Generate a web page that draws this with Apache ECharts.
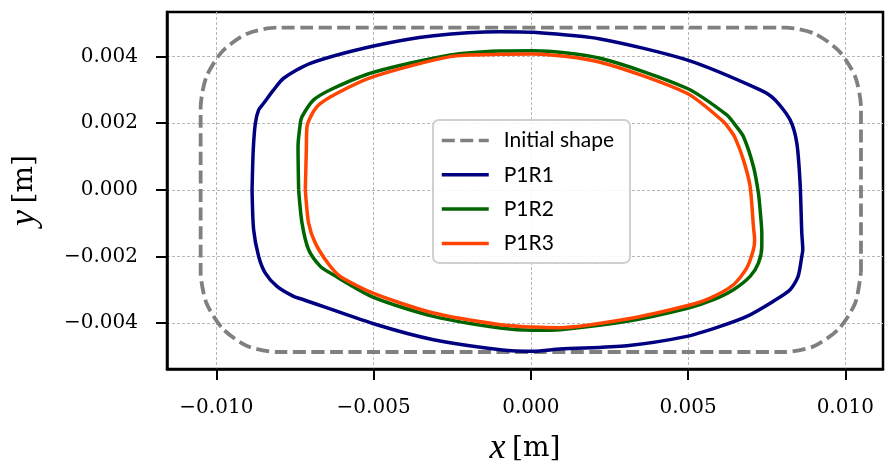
<!DOCTYPE html>
<html><head><meta charset="utf-8">
<script src="https://cdn.jsdelivr.net/npm/echarts@6/dist/echarts.min.js"></script>
<style>html,body{margin:0;padding:0;background:#fff}#c{width:886px;height:466px}</style>
</head><body><div id="c"></div>
<script>
const xTicks = [-0.010, -0.005, 0, 0.005, 0.010];
const yTicks = [-0.004, -0.002, 0, 0.002, 0.004];
const seriesNames = ['Initial shape', 'P1R1', 'P1R2', 'P1R3'];

const initialX = [0.0105, 0.0105, 0.01032, 0.0098, 0.00902, 0.0081, -0.0081, -0.00902, -0.0098, -0.01032, -0.0105, -0.0105, -0.01032, -0.0098, -0.00902, -0.0081, 0.0081, 0.00902, 0.0098, 0.01032, 0.0105];
const initialY = [-0.00247, 0.00247, 0.00339, 0.00417, 0.00469, 0.00487, 0.00487, 0.00469, 0.00417, 0.00339, 0.00247, -0.00247, -0.00339, -0.00417, -0.00469, -0.00487, -0.00487, -0.00469, -0.00417, -0.00339, -0.00247];

const p1r1X = [-0.008865, -0.008827, -0.00876, -0.008655, -0.008497, -0.008179, -0.007861, -0.007012, -0.005, -0.003093, -0.000973, 0.000076, 0.002206, 0.004962, 0.007292, 0.00777, 0.008246, 0.008458, 0.008563, 0.008617, 0.008649, 0.008617, 0.0085, 0.008246, 0.007705, 0.006869, 0.00602, 0.004962, 0.003055, 0.000935, 0.000086, -0.000973, -0.003093, -0.005, -0.007225, -0.007543, -0.008071, -0.008443, -0.008655, -0.008815, -0.008865];
const p1r1Y = [0, 0.0012, 0.002, 0.0024, 0.0026, 0.003, 0.00335, 0.0038, 0.00432, 0.00463, 0.00475, 0.00473, 0.00453, 0.0039, 0.003, 0.0027, 0.0021, 0.00141, 0.00021, -0.00129, -0.0018, -0.002, -0.0026, -0.003, -0.00335, -0.0038, -0.0041, -0.0044, -0.00468, -0.00478, -0.00485, -0.0048, -0.0045, -0.00402, -0.0033, -0.0032, -0.0029, -0.0025, -0.002, -0.0012, 0];

const p1r2X = [-0.007384, -0.007403, -0.00733, -0.007276, -0.006907, -0.006272, -0.005, -0.002562, -0.000973, 0.000086, 0.002206, 0.004962, 0.006233, 0.006497, 0.006761, 0.007079, 0.007238, 0.007292, 0.007346, 0.007346, 0.007238, 0.006974, 0.006443, 0.005807, 0.005013, 0.003055, 0.000935, 0.000086, -0.000973, -0.003093, -0.005, -0.006376, -0.006694, -0.007066, -0.007276, -0.007384];
const p1r2Y = [0, 0.0013, 0.002, 0.0022, 0.0027, 0.00305, 0.00353, 0.00405, 0.00417, 0.00418, 0.00395, 0.00305, 0.00225, 0.00195, 0.0016, 0.0007, -0.0001, -0.0006, -0.0013, -0.0017, -0.0022, -0.0026, -0.003, -0.0033, -0.00355, -0.00395, -0.0042, -0.00422, -0.00415, -0.0038, -0.00323, -0.0025, -0.0023, -0.0018, -0.001, 0];

const p1r3X = [-0.007171, -0.007139, -0.007117, -0.006799, -0.006163, -0.005, -0.002562, -0.000973, 0.000086, 0.002206, 0.004962, 0.006125, 0.006338, 0.006497, 0.006761, 0.006974, 0.007079, 0.007117, 0.007079, 0.006869, 0.006443, 0.005702, 0.004962, 0.003055, 0.000935, 0.000086, -0.000973, -0.003093, -0.005, -0.006058, -0.00644, -0.006853, -0.007066, -0.007171];
const p1r3Y = [0, 0.0012, 0.0019, 0.0025, 0.0029, 0.0034, 0.004, 0.00407, 0.00408, 0.00383, 0.0029, 0.00205, 0.0018, 0.00156, 0.0009, 0.0001, -0.0011, -0.0015, -0.0018, -0.00234, -0.00285, -0.00325, -0.00348, -0.00388, -0.00414, -0.00412, -0.00405, -0.0037, -0.00311, -0.0026, -0.00222, -0.0016, -0.001, 0];

const colors = ['#808080', '#000080', '#006400', '#ff4500'];
function pairs(xs, ys) { return xs.map((x, i) => [x, ys[i]]); }
function fmt(v) { return (v < -1e-12 ? '\u2212' : '') + Math.abs(v).toFixed(3); }

const chart = echarts.init(document.getElementById('c'), null, { renderer: 'canvas' });
const gridLine = { show: true, lineStyle: { color: '#b8b8b8', width: 1, type: [3, 2] } };
const labelStyle = { fontFamily: 'DejaVu Serif', fontSize: 20, color: '#000' };
const tickStyle = { show: true, inside: false, length: 11, lineStyle: { color: '#000', width: 2 } };
const nameRich = {
  i: { fontFamily: 'Liberation Serif', fontStyle: 'italic', fontSize: 36, color: '#000' },
  r: { fontFamily: 'DejaVu Serif', fontSize: 28, color: '#000' }
};

const dataSets = [pairs(initialX, initialY), pairs(p1r1X, p1r1Y), pairs(p1r2X, p1r2Y), pairs(p1r3X, p1r3Y)];

chart.setOption({
  animation: false,
  backgroundColor: '#fff',
  grid: { left: 167, right: 3, top: 12, bottom: 97, outerBoundsMode: 'none', containLabel: false, show: true, borderColor: '#000', borderWidth: 2.5, backgroundColor: 'transparent' },
  xAxis: {
    type: 'value', min: -0.01157, max: 0.0112,
    axisLine: { show: true, onZero: false, lineStyle: { color: '#000', width: 2.5 } },
    axisTick: Object.assign({ customValues: xTicks }, tickStyle),
    axisLabel: Object.assign({ customValues: xTicks, formatter: fmt, margin: 29 }, labelStyle),
    splitLine: gridLine,
    name: '{i|x}  {r|[m]}', nameLocation: 'middle', nameGap: 62,
    nameTextStyle: { rich: nameRich }
  },
  yAxis: {
    type: 'value', min: -0.00538, max: 0.00534,
    axisLine: { show: true, onZero: false, lineStyle: { color: '#000', width: 2.5 } },
    axisTick: Object.assign({ customValues: yTicks }, tickStyle),
    axisLabel: Object.assign({ customValues: yTicks, formatter: fmt, margin: 29 }, labelStyle),
    splitLine: gridLine,
    name: '{i|y}  {r|[m]}', nameLocation: 'middle', nameGap: 124, nameRotate: 90,
    nameTextStyle: { rich: nameRich }
  },
  legend: {
    orient: 'vertical', left: 433, top: 120,
    padding: [10, 16, 9, 7], itemGap: 13.3, itemWidth: 47, itemHeight: 20,
    data: seriesNames,
    itemStyle: { color: 'rgba(0,0,0,0)', borderWidth: 0, opacity: 0 },
    lineStyle: { width: 3.5 },
    textStyle: { fontFamily: 'Lato', fontSize: 21, color: '#000', lineHeight: 20, padding: [0, 0, 0, 10] },
    backgroundColor: 'rgba(255,255,255,0.85)', borderColor: '#d0d0d0', borderWidth: 2, borderRadius: 6
  },
  series: seriesNames.map((n, i) => ({
    name: n, type: 'line', data: dataSets[i], showSymbol: false, symbol: 'none', smooth: 0.25,
    color: colors[i],
    lineStyle: { color: colors[i], width: i === 0 ? 3.8 : 3.5, type: i === 0 ? [13, 5.5] : 'solid' },
    z: 2 + i
  }))
});
</script></body></html>
